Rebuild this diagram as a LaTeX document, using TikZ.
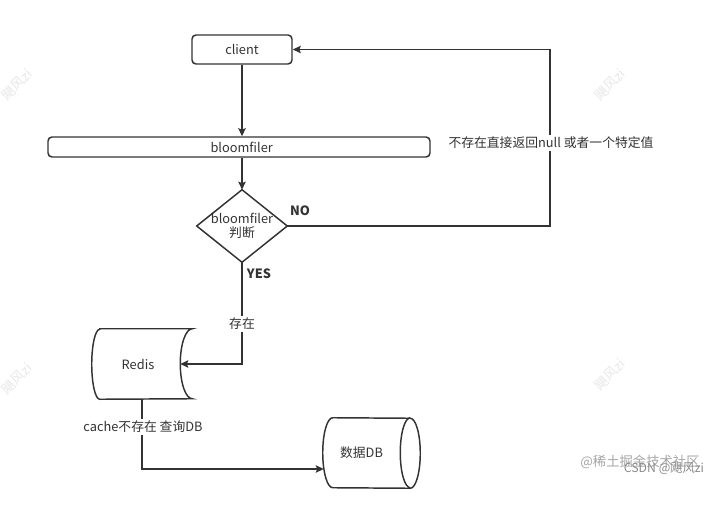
\documentclass[tikz,border=0pt]{standalone}
\usepackage{fontspec}
\setmainfont{Noto Sans CJK SC}
\usetikzlibrary{arrows.meta}
\definecolor{ink}{HTML}{333333}
\begin{document}
\begin{tikzpicture}[x=0.75pt,y=0.75pt,>={Stealth[length=6pt,width=5.5pt,inset=1pt]},
  every node/.style={font=\fontsize{9.6}{11.5}\selectfont,text=ink,inner sep=0pt},
  ln/.style={draw=ink,line width=1.1pt},
  arr/.style={ln,->},
  boxnode/.style={ln,rounded corners=3pt},
  lbl/.style={fill=white,inner sep=1.5pt},
  bold/.style={font=\fontsize{9.6}{11.5}\selectfont\bfseries},
  wm/.style={text=black!9,rotate=45,font=\fontsize{10}{12}\selectfont}]
  \useasboundingbox[fill=white] (0,0) rectangle (724,511);
  % watermarks
  \node[wm] (wm1) at (17,426) {飓风zi};
  \node[wm] (wm2) at (610,426) {飓风zi};
  \node[wm] (wm3) at (17,132) {飓风zi};
  \node[wm] (wm4) at (610,136) {飓风zi};
  \node[text=black!35,font=\fontsize{10}{12}\selectfont] (juejin) at (640,49) {@稀土掘金技术社区};
  \node[text=black!45,font=\fontsize{9.2}{11}\selectfont] (csdn) at (664,42) {CSDN @飓风zi};
  % boxes
  \node[boxnode,minimum width=75pt,minimum height=21.75pt] (client) at (242,461.5) {client};
  \node[boxnode,minimum width=286.5pt,minimum height=15pt] (bloom) at (239,364) {\hspace*{4pt}bloomfiler};
  \node[minimum width=67.5pt,minimum height=54pt,align=center] (dia) at (242,285) {bloomfiler\\[-1pt]判断};
  \draw[ln] (dia.north)--(dia.east)--(dia.south)--(dia.west)--cycle;
  \node[minimum width=75pt,minimum height=52.5pt,label={[xshift=-3pt]center:Redis}] (redis) at (142,147) {};
  \draw[ln] ([xshift=6pt]redis.north west) -- (redis.north east)
    arc[start angle=90,end angle=270,x radius=9pt,y radius=26.25pt]
    -- ([xshift=6pt]redis.south west)
    arc[start angle=270,end angle=90,x radius=6pt,y radius=26.25pt] -- cycle;
  \node[minimum width=72.75pt,minimum height=52.5pt,label={[xshift=-7.5pt]center:数据DB}] (db) at (371.5,58) {};
  \draw[ln] ([xshift=7.5pt]db.north west)
    arc[start angle=90,end angle=270,x radius=7.5pt,y radius=26.25pt]
    -- ([xshift=-7.5pt]db.south east)
    arc[start angle=-90,end angle=90,x radius=7.5pt,y radius=26.25pt] -- cycle;
  \draw[ln] ([xshift=-7.5pt]db.north east)
    arc[start angle=90,end angle=270,x radius=7.5pt,y radius=26.25pt];
  % connectors
  \coordinate (ret) at (550,285);
  \coordinate (dbin) at ([shift={(0.8pt,-12pt)}]db.west);
  \draw[arr] (client.south) -- (client.south |- bloom.north);
  \draw[arr] (bloom.south -| dia.north) -- (dia.north);
  \draw[arr] (dia.east) -- (ret) |- (client.east);
  \draw[arr] (dia.south) |- ([xshift=-9pt]redis.east);
  \draw[arr] (redis.south) |- (dbin);
  % labels
  \node[lbl] (retlbl) at (551,368) {不存在直接返回null 或者一个特定值};
  \node[bold] (nolbl) at (300,300) {NO};
  \node[bold] (yeslbl) at (259,237) {YES};
  \node[lbl] (hitlbl) at (242,187) {存在};
  \node[lbl] (misslbl) at (143,84) {cache不存在 查询DB};
\end{tikzpicture}
\end{document}
